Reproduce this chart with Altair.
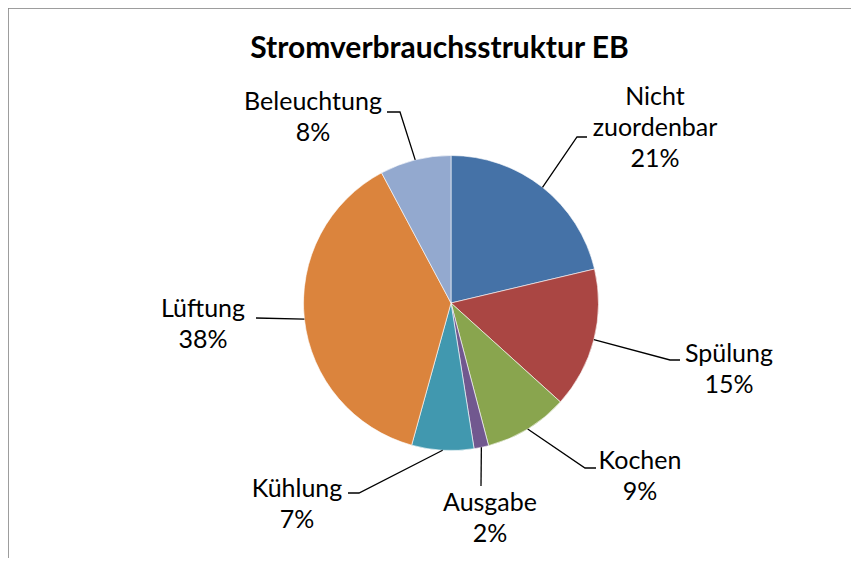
import math
import altair as alt
import pandas as pd

# ---- data ----
categories = ["Nicht zuordenbar", "Spülung", "Kochen", "Ausgabe", "Kühlung", "Lüftung", "Beleuchtung"]
label_lines = ["Nicht\nzuordenbar", "Spülung", "Kochen", "Ausgabe", "Kühlung", "Lüftung", "Beleuchtung"]
shares = [21.3, 15.4, 9.2, 1.6, 6.8, 37.9, 7.8]
colors = ["#4572A7", "#AA4643", "#89A54E", "#71588F", "#4198AF", "#DB843D", "#93A9CF"]
title_text = "Stromverbrauchsstruktur EB"

# ---- layout (chart pixel units) ----
W, H = 843, 550
CX, CY, R = 443, 295, 147.5
# centre of the first text line of each label
label_pos = {
    "Nicht zuordenbar": (647, 89),
    "Spülung": (721, 346),
    "Kochen": (632, 453),
    "Ausgabe": (482, 495),
    "Kühlung": (289, 481),
    "Lüftung": (195, 301),
    "Beleuchtung": (305, 94),
}
leader_pts = {
    "Nicht zuordenbar": [(569, 129), (579, 129)],
    "Spülung": [(662, 352), (672, 352)],
    "Kochen": [(577, 460), (588, 460)],
    "Ausgabe": [(473, 478)],
    "Kühlung": [(351, 485), (340, 485)],
    "Lüftung": [(248, 310)],
    "Beleuchtung": [(392, 104), (379, 104)],
}
FONT = "Lato"

total = sum(shares)
pie_df = pd.DataFrame({"cat": categories, "val": shares, "idx": range(len(categories))})

rows_lbl, rows_line = [], []
cum = 0.0
for c, ll, v in zip(categories, label_lines, shares):
    mid = (cum + v / 2) / total * 2 * math.pi
    cum += v
    ex, ey = CX + R * math.sin(mid), CY - R * math.cos(mid)
    pts = [(ex, ey)] + leader_pts[c]
    for k, (px, py) in enumerate(pts):
        rows_line.append({"cat": c, "k": k, "x": px, "y": py})
    lx, ly = label_pos[c]
    rows_lbl.append({"cat": c, "x": lx, "y": ly, "text": f"{ll}\n{round(v / total * 100)}%"})

lbl_df = pd.DataFrame(rows_lbl)
line_df = pd.DataFrame(rows_line)

xs = alt.Scale(domain=[0, W], range=[0, W], nice=False, zero=False)
ys = alt.Scale(domain=[0, H], range=[0, H], nice=False, zero=False)

pie = alt.Chart(pie_df).mark_arc(outerRadius=R, stroke="white", strokeWidth=0.6).encode(
    theta=alt.Theta("val:Q", stack=True),
    order=alt.Order("idx:Q", sort="ascending"),
    color=alt.Color("cat:N", scale=alt.Scale(domain=categories, range=colors), legend=None),
    x=alt.value(CX),
    y=alt.value(CY),
)

lines = alt.Chart(line_df).mark_line(color="black", strokeWidth=1.3).encode(
    x=alt.X("x:Q", scale=xs, axis=None),
    y=alt.Y("y:Q", scale=ys, axis=None),
    detail="cat:N",
    order="k:Q",
)

labels = alt.Chart(lbl_df).mark_text(
    font=FONT, fontSize=25, lineBreak="\n", lineHeight=31, align="center", baseline="middle", color="black"
).encode(
    x=alt.X("x:Q", scale=xs, axis=None),
    y=alt.Y("y:Q", scale=ys, axis=None),
    text="text:N",
)

title = alt.Chart(pd.DataFrame({"t": [title_text]})).mark_text(
    font=FONT, fontSize=30, fontWeight="bold", align="center", baseline="middle", color="black"
).encode(x=alt.value(431.5), y=alt.value(41), text="t:N")

border_left = alt.Chart(pd.DataFrame({"a": [0]})).mark_rule(color="#878787", strokeWidth=1.5).encode(
    x=alt.value(0), y=alt.value(0), y2=alt.value(H)
)
border_top = alt.Chart(pd.DataFrame({"a": [0]})).mark_rule(color="#878787", strokeWidth=1.5).encode(
    y=alt.value(0), x=alt.value(0), x2=alt.value(W)
)

chart = alt.layer(border_left, border_top, pie, lines, labels, title).properties(
    width=W, height=H, padding=0, autosize=alt.AutoSizeParams(type="none")
).configure_view(stroke=None).configure(background="white")

chart.save("out.html", embed_options={"renderer": "svg", "actions": False})
